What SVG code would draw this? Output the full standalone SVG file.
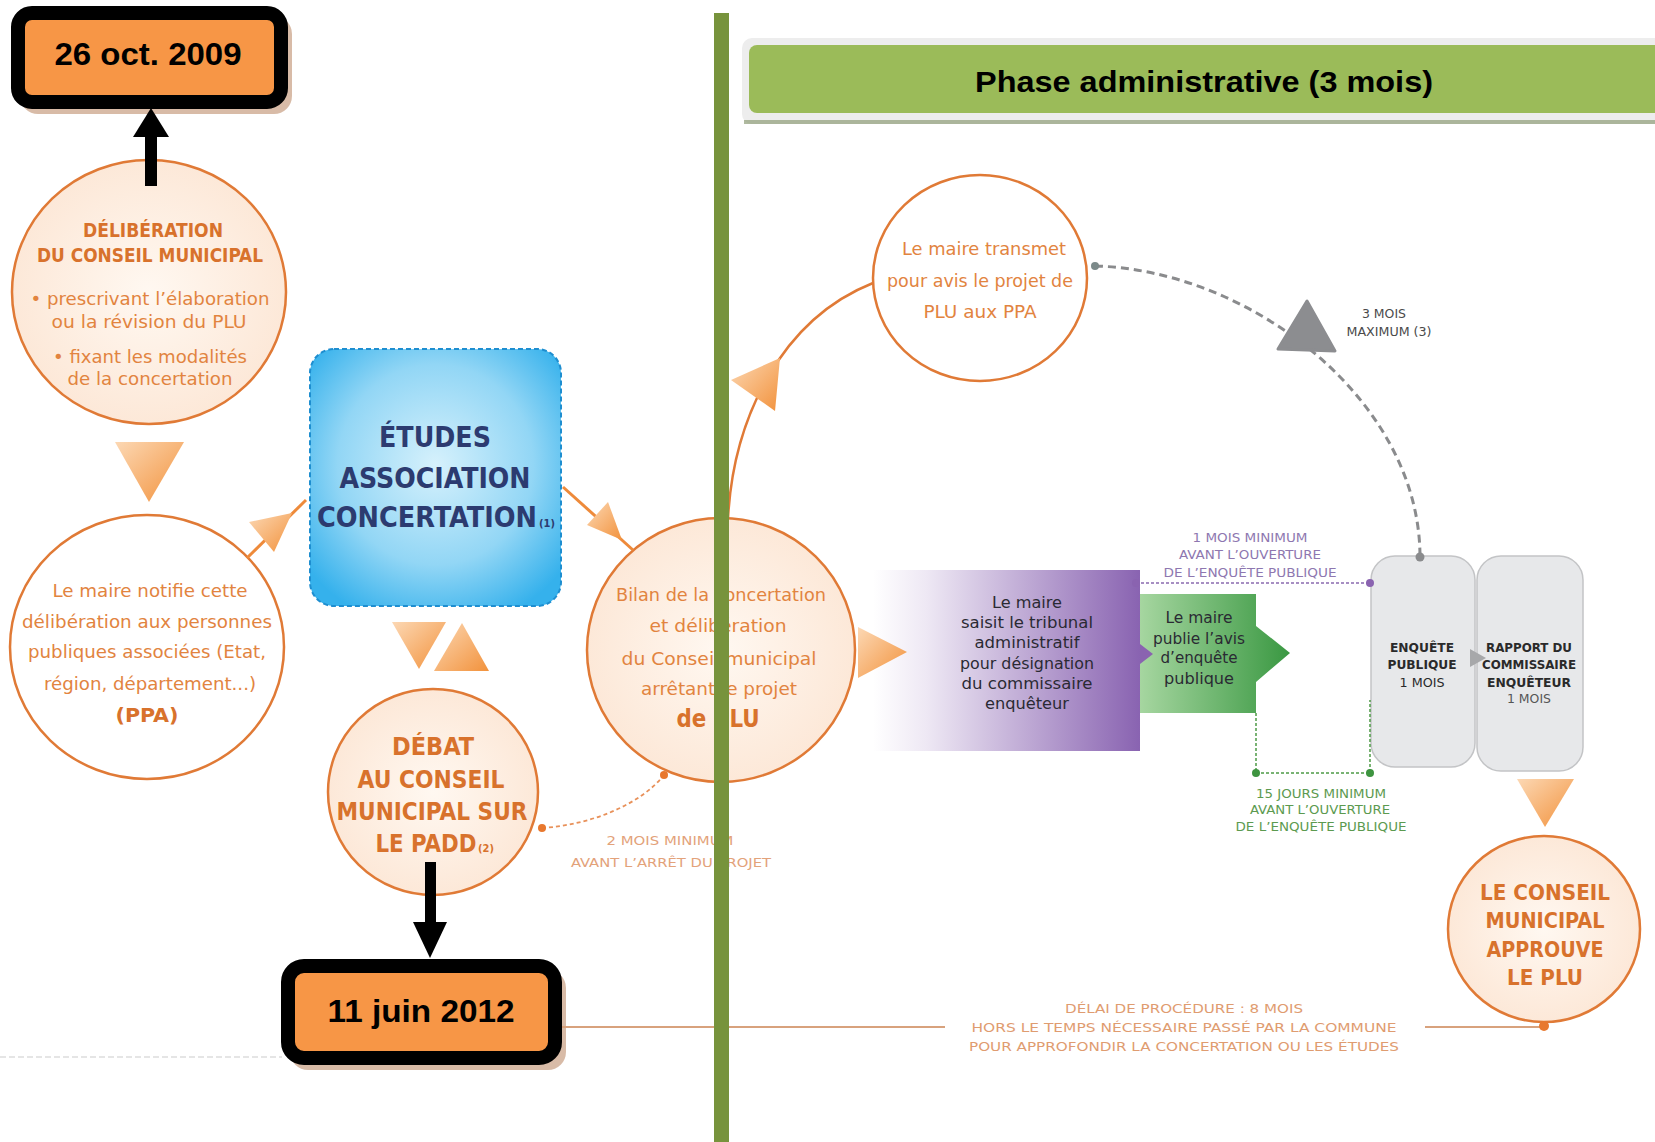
<svg xmlns="http://www.w3.org/2000/svg" width="1655" height="1142" viewBox="0 0 1655 1142">
<defs>
<style>
.ot{font-family:"DejaVu Sans Condensed","Liberation Sans",sans-serif;fill:#E2843F;text-anchor:middle}
.otb{font-family:"DejaVu Sans Condensed","Liberation Sans",sans-serif;fill:#D8722C;text-anchor:middle;font-weight:bold}
.date{font-family:"Liberation Sans",sans-serif;font-weight:bold;font-size:31px;fill:#000;text-anchor:middle}
.peach{fill:url(#gPeach);stroke:#E07A36;stroke-width:2.5}
.white{fill:#fff;stroke:#E07A36;stroke-width:2.5}
.navy{font-family:"DejaVu Sans Condensed","Liberation Sans",sans-serif;font-weight:bold;fill:#2C3B70;text-anchor:middle;font-size:29px}
.dk{font-family:"DejaVu Sans Condensed","Liberation Sans",sans-serif;fill:#2A2A33;text-anchor:middle;font-size:16px}
.sm{font-family:"DejaVu Sans Condensed","Liberation Sans",sans-serif;text-anchor:middle;font-size:13px}
.tri{fill:url(#gTri)}
.datebox{fill:#F79646;stroke:#000;stroke-width:14}
.shadow{fill:#B8835F;opacity:.55}
</style>
<radialGradient id="gPeach" cx="0.5" cy="0.5" r="0.6">
<stop offset="0" stop-color="#FFF8F1"/><stop offset="1" stop-color="#FCE5D3"/>
</radialGradient>
<linearGradient id="gTri" x1="0" y1="0" x2="1" y2="1">
<stop offset="0" stop-color="#FCD8B4"/><stop offset="1" stop-color="#F2923C"/>
</linearGradient>
<radialGradient id="gBlue" cx="0.5" cy="0.45" r="0.65">
<stop offset="0" stop-color="#D6F1FC"/><stop offset="0.6" stop-color="#92D6F5"/><stop offset="1" stop-color="#35B1EC"/>
</radialGradient>
<linearGradient id="gPurple" x1="0" y1="0" x2="1" y2="0">
<stop offset="0" stop-color="#FFFFFF"/><stop offset="0.2" stop-color="#EEE8F4"/><stop offset="1" stop-color="#8963B1"/>
</linearGradient>
<linearGradient id="gGreen" x1="0" y1="0" x2="1" y2="0">
<stop offset="0" stop-color="#A6D6A0"/><stop offset="1" stop-color="#3A9842"/>
</linearGradient>
</defs>

<rect width="1655" height="1142" fill="#fff"/>

<!-- date box 1 -->
<g id="date2009">
<rect class="shadow" x="20" y="16" width="272" height="98" rx="18"/>
<rect class="datebox" x="18" y="13" width="263" height="89" rx="14"/>
<text class="date" x="148" y="65" textLength="187" lengthAdjust="spacingAndGlyphs">26 oct. 2009</text>
</g>

<!-- deliberation circle -->
<g id="deliberation">
<ellipse class="peach" cx="149" cy="292" rx="137" ry="132"/>
<text class="otb" x="153" y="237" font-size="19" textLength="140" lengthAdjust="spacingAndGlyphs">DÉLIBÉRATION</text>
<text class="otb" x="150" y="262" font-size="19" textLength="226" lengthAdjust="spacingAndGlyphs">DU CONSEIL MUNICIPAL</text>
<text class="ot" x="150" y="305" font-size="18" textLength="239" lengthAdjust="spacingAndGlyphs">• prescrivant l’élaboration</text>
<text class="ot" x="149" y="328" font-size="18" textLength="195" lengthAdjust="spacingAndGlyphs">ou la révision du PLU</text>
<text class="ot" x="150" y="363" font-size="18" textLength="194" lengthAdjust="spacingAndGlyphs">• fixant les modalités</text>
<text class="ot" x="150" y="385" font-size="18" textLength="165" lengthAdjust="spacingAndGlyphs">de la concertation</text>
</g>

<!-- notifie circle -->
<g id="notifie">
<ellipse class="white" cx="147" cy="647" rx="137" ry="132"/>
<text class="ot" x="150" y="597" font-size="18" textLength="195" lengthAdjust="spacingAndGlyphs">Le maire notifie cette</text>
<text class="ot" x="147" y="628" font-size="18" textLength="250" lengthAdjust="spacingAndGlyphs">délibération aux personnes</text>
<text class="ot" x="147" y="658" font-size="18" textLength="238" lengthAdjust="spacingAndGlyphs">publiques associées (Etat,</text>
<text class="ot" x="150" y="690" font-size="18" textLength="212" lengthAdjust="spacingAndGlyphs">région, département...)</text>
<text class="otb" x="147" y="722" font-size="20" textLength="63" lengthAdjust="spacingAndGlyphs">(PPA)</text>
</g>

<!-- etudes box -->
<g id="etudes">
<rect x="310" y="349" width="251" height="257" rx="24" fill="url(#gBlue)" stroke="#1E8ED0" stroke-width="2" stroke-dasharray="5 3"/>
<text class="navy" x="435" y="447" textLength="112" lengthAdjust="spacingAndGlyphs">ÉTUDES</text>
<text class="navy" x="435" y="488" textLength="191" lengthAdjust="spacingAndGlyphs">ASSOCIATION</text>
<text class="navy" x="427" y="527" textLength="220" lengthAdjust="spacingAndGlyphs">CONCERTATION</text>
<text x="547" y="527" font-family="DejaVu Sans Condensed, Liberation Sans, sans-serif" font-size="11" font-weight="bold" fill="#2C3B70" text-anchor="middle">(1)</text>
</g>

<!-- debat circle -->
<g id="debat">
<ellipse class="peach" cx="433" cy="792" rx="105" ry="103"/>
<text class="otb" x="433" y="755" font-size="24" textLength="82" lengthAdjust="spacingAndGlyphs">DÉBAT</text>
<text class="otb" x="431" y="788" font-size="24" textLength="147" lengthAdjust="spacingAndGlyphs">AU CONSEIL</text>
<text class="otb" x="432" y="820" font-size="24" textLength="191" lengthAdjust="spacingAndGlyphs">MUNICIPAL SUR</text>
<text class="otb" x="426" y="852" font-size="24" textLength="101" lengthAdjust="spacingAndGlyphs">LE PADD</text>
<text class="otb" x="486" y="852" font-size="11">(2)</text>
</g>

<!-- date box 2 -->
<g id="date2012">
<rect class="shadow" x="290" y="970" width="276" height="100" rx="18"/>
<rect class="datebox" x="288" y="966" width="267" height="92" rx="16"/>
<text class="date" x="421" y="1022" textLength="187" lengthAdjust="spacingAndGlyphs">11 juin 2012</text>
</g>

<!-- labels 2 mois -->
<g id="label-2mois">
<text class="sm" x="670" y="845" fill="#E3A27A" font-size="14" textLength="127" lengthAdjust="spacingAndGlyphs">2 MOIS MINIMUM</text>
<text class="sm" x="671" y="867" fill="#E3A27A" font-size="14" textLength="200" lengthAdjust="spacingAndGlyphs">AVANT L’ARRÊT DU PROJET</text>
</g>

<!-- bilan circle -->
<g id="bilan">
<ellipse class="peach" cx="721" cy="650" rx="134" ry="132"/>
<text class="ot" x="721" y="601" font-size="18" textLength="210" lengthAdjust="spacingAndGlyphs">Bilan de la concertation</text>
<text class="ot" x="718" y="632" font-size="18" textLength="137" lengthAdjust="spacingAndGlyphs">et délibération</text>
<text class="ot" x="719" y="665" font-size="18" textLength="195" lengthAdjust="spacingAndGlyphs">du Conseil municipal</text>
<text class="ot" x="719" y="695" font-size="18" textLength="156" lengthAdjust="spacingAndGlyphs">arrêtant le projet</text>
<text class="otb" x="718" y="727" font-size="25" textLength="83" lengthAdjust="spacingAndGlyphs">de PLU</text>
</g>

<!-- header -->
<g id="header">
<rect x="742" y="38" width="930" height="86" rx="10" fill="#EDEDED"/>
<rect x="744" y="120" width="920" height="4" fill="#8E9C78" opacity=".7"/>
<rect x="749" y="45" width="920" height="68" rx="8" fill="#9BBB59"/>
<text x="1204" y="92" font-family="Liberation Sans, sans-serif" font-weight="bold" font-size="30" fill="#000" text-anchor="middle" textLength="458" lengthAdjust="spacingAndGlyphs">Phase administrative (3 mois)</text>
</g>

<!-- transmet circle -->
<g id="transmet">
<ellipse class="white" cx="980" cy="278" rx="107" ry="103"/>
<text class="ot" x="984" y="255" font-size="17" textLength="164" lengthAdjust="spacingAndGlyphs">Le maire transmet</text>
<text class="ot" x="980" y="287" font-size="17" textLength="186" lengthAdjust="spacingAndGlyphs">pour avis le projet de</text>
<text class="ot" x="980" y="318" font-size="17" textLength="113" lengthAdjust="spacingAndGlyphs">PLU aux PPA</text>
</g>

<g id="label-3mois">
<text class="sm" x="1384" y="318" fill="#4A4A4A" font-size="12" textLength="44" lengthAdjust="spacingAndGlyphs">3 MOIS</text>
<text class="sm" x="1389" y="336" fill="#4A4A4A" font-size="12" textLength="85" lengthAdjust="spacingAndGlyphs">MAXIMUM (3)</text>
</g>

<!-- purple box -->
<g id="tribunal">
<rect x="873" y="570" width="267" height="181" fill="url(#gPurple)"/>
<text class="dk" x="1027" y="608" textLength="70" lengthAdjust="spacingAndGlyphs">Le maire</text>
<text class="dk" x="1027" y="628" textLength="132" lengthAdjust="spacingAndGlyphs">saisit le tribunal</text>
<text class="dk" x="1027" y="648" textLength="105" lengthAdjust="spacingAndGlyphs">administratif</text>
<text class="dk" x="1027" y="669" textLength="134" lengthAdjust="spacingAndGlyphs">pour désignation</text>
<text class="dk" x="1027" y="689" textLength="131" lengthAdjust="spacingAndGlyphs">du commissaire</text>
<text class="dk" x="1027" y="709" textLength="84" lengthAdjust="spacingAndGlyphs">enquêteur</text>
</g>

<!-- green box -->
<g id="avis">
<path d="M1140,594 H1256 V626 L1290,653 L1256,682 V713 H1140 Z" fill="url(#gGreen)"/>
<polygon points="1140,644 1153,654 1140,664" fill="#8A63B0"/>
<text class="dk" x="1199" y="623" fill="#1E2E1E" textLength="67" lengthAdjust="spacingAndGlyphs">Le maire</text>
<text class="dk" x="1199" y="644" fill="#1E2E1E" textLength="92" lengthAdjust="spacingAndGlyphs">publie l’avis</text>
<text class="dk" x="1199" y="663" fill="#1E2E1E" textLength="77" lengthAdjust="spacingAndGlyphs">d’enquête</text>
<text class="dk" x="1199" y="684" fill="#1E2E1E" textLength="70" lengthAdjust="spacingAndGlyphs">publique</text>
</g>

<g id="label-1mois">
<text class="sm" x="1250" y="542" fill="#8E77B0" textLength="115" lengthAdjust="spacingAndGlyphs">1 MOIS MINIMUM</text>
<text class="sm" x="1250" y="559" fill="#8E77B0" textLength="142" lengthAdjust="spacingAndGlyphs">AVANT L’OUVERTURE</text>
<text class="sm" x="1250" y="577" fill="#8E77B0" textLength="173" lengthAdjust="spacingAndGlyphs">DE L’ENQUÊTE PUBLIQUE</text>
</g>

<g id="label-15jours">
<text class="sm" x="1321" y="798" fill="#5C9A4F" textLength="130" lengthAdjust="spacingAndGlyphs">15 JOURS MINIMUM</text>
<text class="sm" x="1320" y="814" fill="#5C9A4F" textLength="140" lengthAdjust="spacingAndGlyphs">AVANT L’OUVERTURE</text>
<text class="sm" x="1321" y="831" fill="#5C9A4F" textLength="171" lengthAdjust="spacingAndGlyphs">DE L’ENQUÊTE PUBLIQUE</text>
</g>

<!-- grey boxes -->
<g id="enquete">
<rect x="1371" y="556" width="104" height="211" rx="24" fill="#E7E8EA" stroke="#C3C4C6" stroke-width="1.5"/>
<text class="sm" x="1422" y="652" fill="#2A2A2A" font-weight="bold" textLength="64" lengthAdjust="spacingAndGlyphs">ENQUÊTE</text>
<text class="sm" x="1422" y="669" fill="#2A2A2A" font-weight="bold" textLength="69" lengthAdjust="spacingAndGlyphs">PUBLIQUE</text>
<text class="sm" x="1422" y="687" fill="#2A2A2A" textLength="45" lengthAdjust="spacingAndGlyphs">1 MOIS</text>
</g>
<g id="rapport">
<rect x="1477" y="556" width="106" height="215" rx="24" fill="#E7E8EA" stroke="#C3C4C6" stroke-width="1.5"/>
<polygon points="1470,649 1486,658 1470,667" fill="#A7A8AA"/>
<text class="sm" x="1529" y="652" fill="#2A2A2A" font-weight="bold" textLength="86" lengthAdjust="spacingAndGlyphs">RAPPORT DU</text>
<text class="sm" x="1529" y="669" fill="#2A2A2A" font-weight="bold" textLength="94" lengthAdjust="spacingAndGlyphs">COMMISSAIRE</text>
<text class="sm" x="1529" y="687" fill="#2A2A2A" font-weight="bold" textLength="84" lengthAdjust="spacingAndGlyphs">ENQUÊTEUR</text>
<text class="sm" x="1529" y="703" fill="#555" textLength="44" lengthAdjust="spacingAndGlyphs">1 MOIS</text>
</g>

<!-- approuve circle -->
<g id="approuve">
<ellipse class="peach" cx="1544" cy="929" rx="96" ry="93"/>
<text class="otb" x="1545" y="900" font-size="22" textLength="130" lengthAdjust="spacingAndGlyphs">LE CONSEIL</text>
<text class="otb" x="1545" y="928" font-size="22" textLength="119" lengthAdjust="spacingAndGlyphs">MUNICIPAL</text>
<text class="otb" x="1545" y="957" font-size="22" textLength="117" lengthAdjust="spacingAndGlyphs">APPROUVE</text>
<text class="otb" x="1545" y="985" font-size="22" textLength="76" lengthAdjust="spacingAndGlyphs">LE PLU</text>
</g>

<g id="label-delai">
<text class="sm" x="1184" y="1013" fill="#DF9C70" font-size="14" textLength="238" lengthAdjust="spacingAndGlyphs">DÉLAI DE PROCÉDURE : 8 MOIS</text>
<text class="sm" x="1184" y="1032" fill="#DF9C70" font-size="14" textLength="425" lengthAdjust="spacingAndGlyphs">HORS LE TEMPS NÉCESSAIRE PASSÉ PAR LA COMMUNE</text>
<text class="sm" x="1184" y="1051" fill="#DF9C70" font-size="14" textLength="430" lengthAdjust="spacingAndGlyphs">POUR APPROFONDIR LA CONCERTATION OU LES ÉTUDES</text>
</g>

<!-- connectors -->
<g id="connectors">
<polygon points="151,108 133,137 169,137" fill="#000"/>
<rect x="145" y="136" width="12" height="50" fill="#000"/>
<rect x="425" y="862" width="11" height="62" fill="#000"/>
<polygon points="413,922 447,922 430,958" fill="#000"/>
<line x1="247" y1="558" x2="306" y2="500" stroke="#EE8A3A" stroke-width="3"/>
<polygon class="tri" points="292,513 249,522 274,552"/>
<line x1="563" y1="487" x2="633" y2="550" stroke="#EE8A3A" stroke-width="3"/>
<polygon class="tri" points="622,540 587,525 608,502"/>
<path d="M728,519 C733,420 780,320 873,283" fill="none" stroke="#E07A36" stroke-width="2.5"/>
<polygon class="tri" points="780,358 731,380 775,411"/>
<path d="M542,828 C590,825 640,805 664,775" fill="none" stroke="#E8915A" stroke-width="1.8" stroke-dasharray="4 3"/>
<circle cx="542" cy="828" r="4" fill="#E8782E"/>
<circle cx="664" cy="775" r="4" fill="#E8782E"/>
<path d="M1095,266 C1250,270 1420,400 1420,557" fill="none" stroke="#8A8B8D" stroke-width="3" stroke-dasharray="8 5"/>
<circle cx="1095" cy="266" r="4" fill="#7C8A8A"/>
<circle cx="1420" cy="557" r="4.5" fill="#8A8B8D"/>
<polygon points="1307,301 1278,349 1335,351" fill="#8C8D90" stroke="#8C8D90" stroke-width="3" stroke-linejoin="round"/>
<polygon class="tri" points="115,442 184,442 149,502"/>
<polygon class="tri" points="392,622 446,622 419,669"/>
<polygon class="tri" points="462,623 434,671 489,671"/>
<polygon class="tri" points="858,627 907,652 858,678"/>
<polygon class="tri" points="1517,779 1574,779 1545,827"/>
<line x1="1136" y1="583" x2="1370" y2="583" stroke="#8A6AB0" stroke-width="1.5" stroke-dasharray="3 2"/>
<circle cx="1136" cy="583" r="4" fill="#8A63B0"/>
<circle cx="1370" cy="583" r="4" fill="#8A63B0"/>
<polyline points="1256,713 1256,773 1370,773 1370,700" fill="none" stroke="#4E9A45" stroke-width="1.5" stroke-dasharray="3 2"/>
<circle cx="1256" cy="773" r="4" fill="#3E9440"/>
<circle cx="1370" cy="773" r="4" fill="#3E9440"/>
<line x1="0" y1="1057" x2="282" y2="1057" stroke="#DDDDDD" stroke-width="1.5" stroke-dasharray="6 3"/>
<line x1="562" y1="1027" x2="945" y2="1027" stroke="#D8A27D" stroke-width="1.8"/>
<line x1="1425" y1="1027" x2="1544" y2="1027" stroke="#D8A27D" stroke-width="1.8"/>
<circle cx="1544" cy="1026" r="5" fill="#E8782E"/>
</g>

<!-- green separator bar -->
<rect id="separator" x="714" y="13" width="15" height="1129" fill="#77933C"/>
</svg>
